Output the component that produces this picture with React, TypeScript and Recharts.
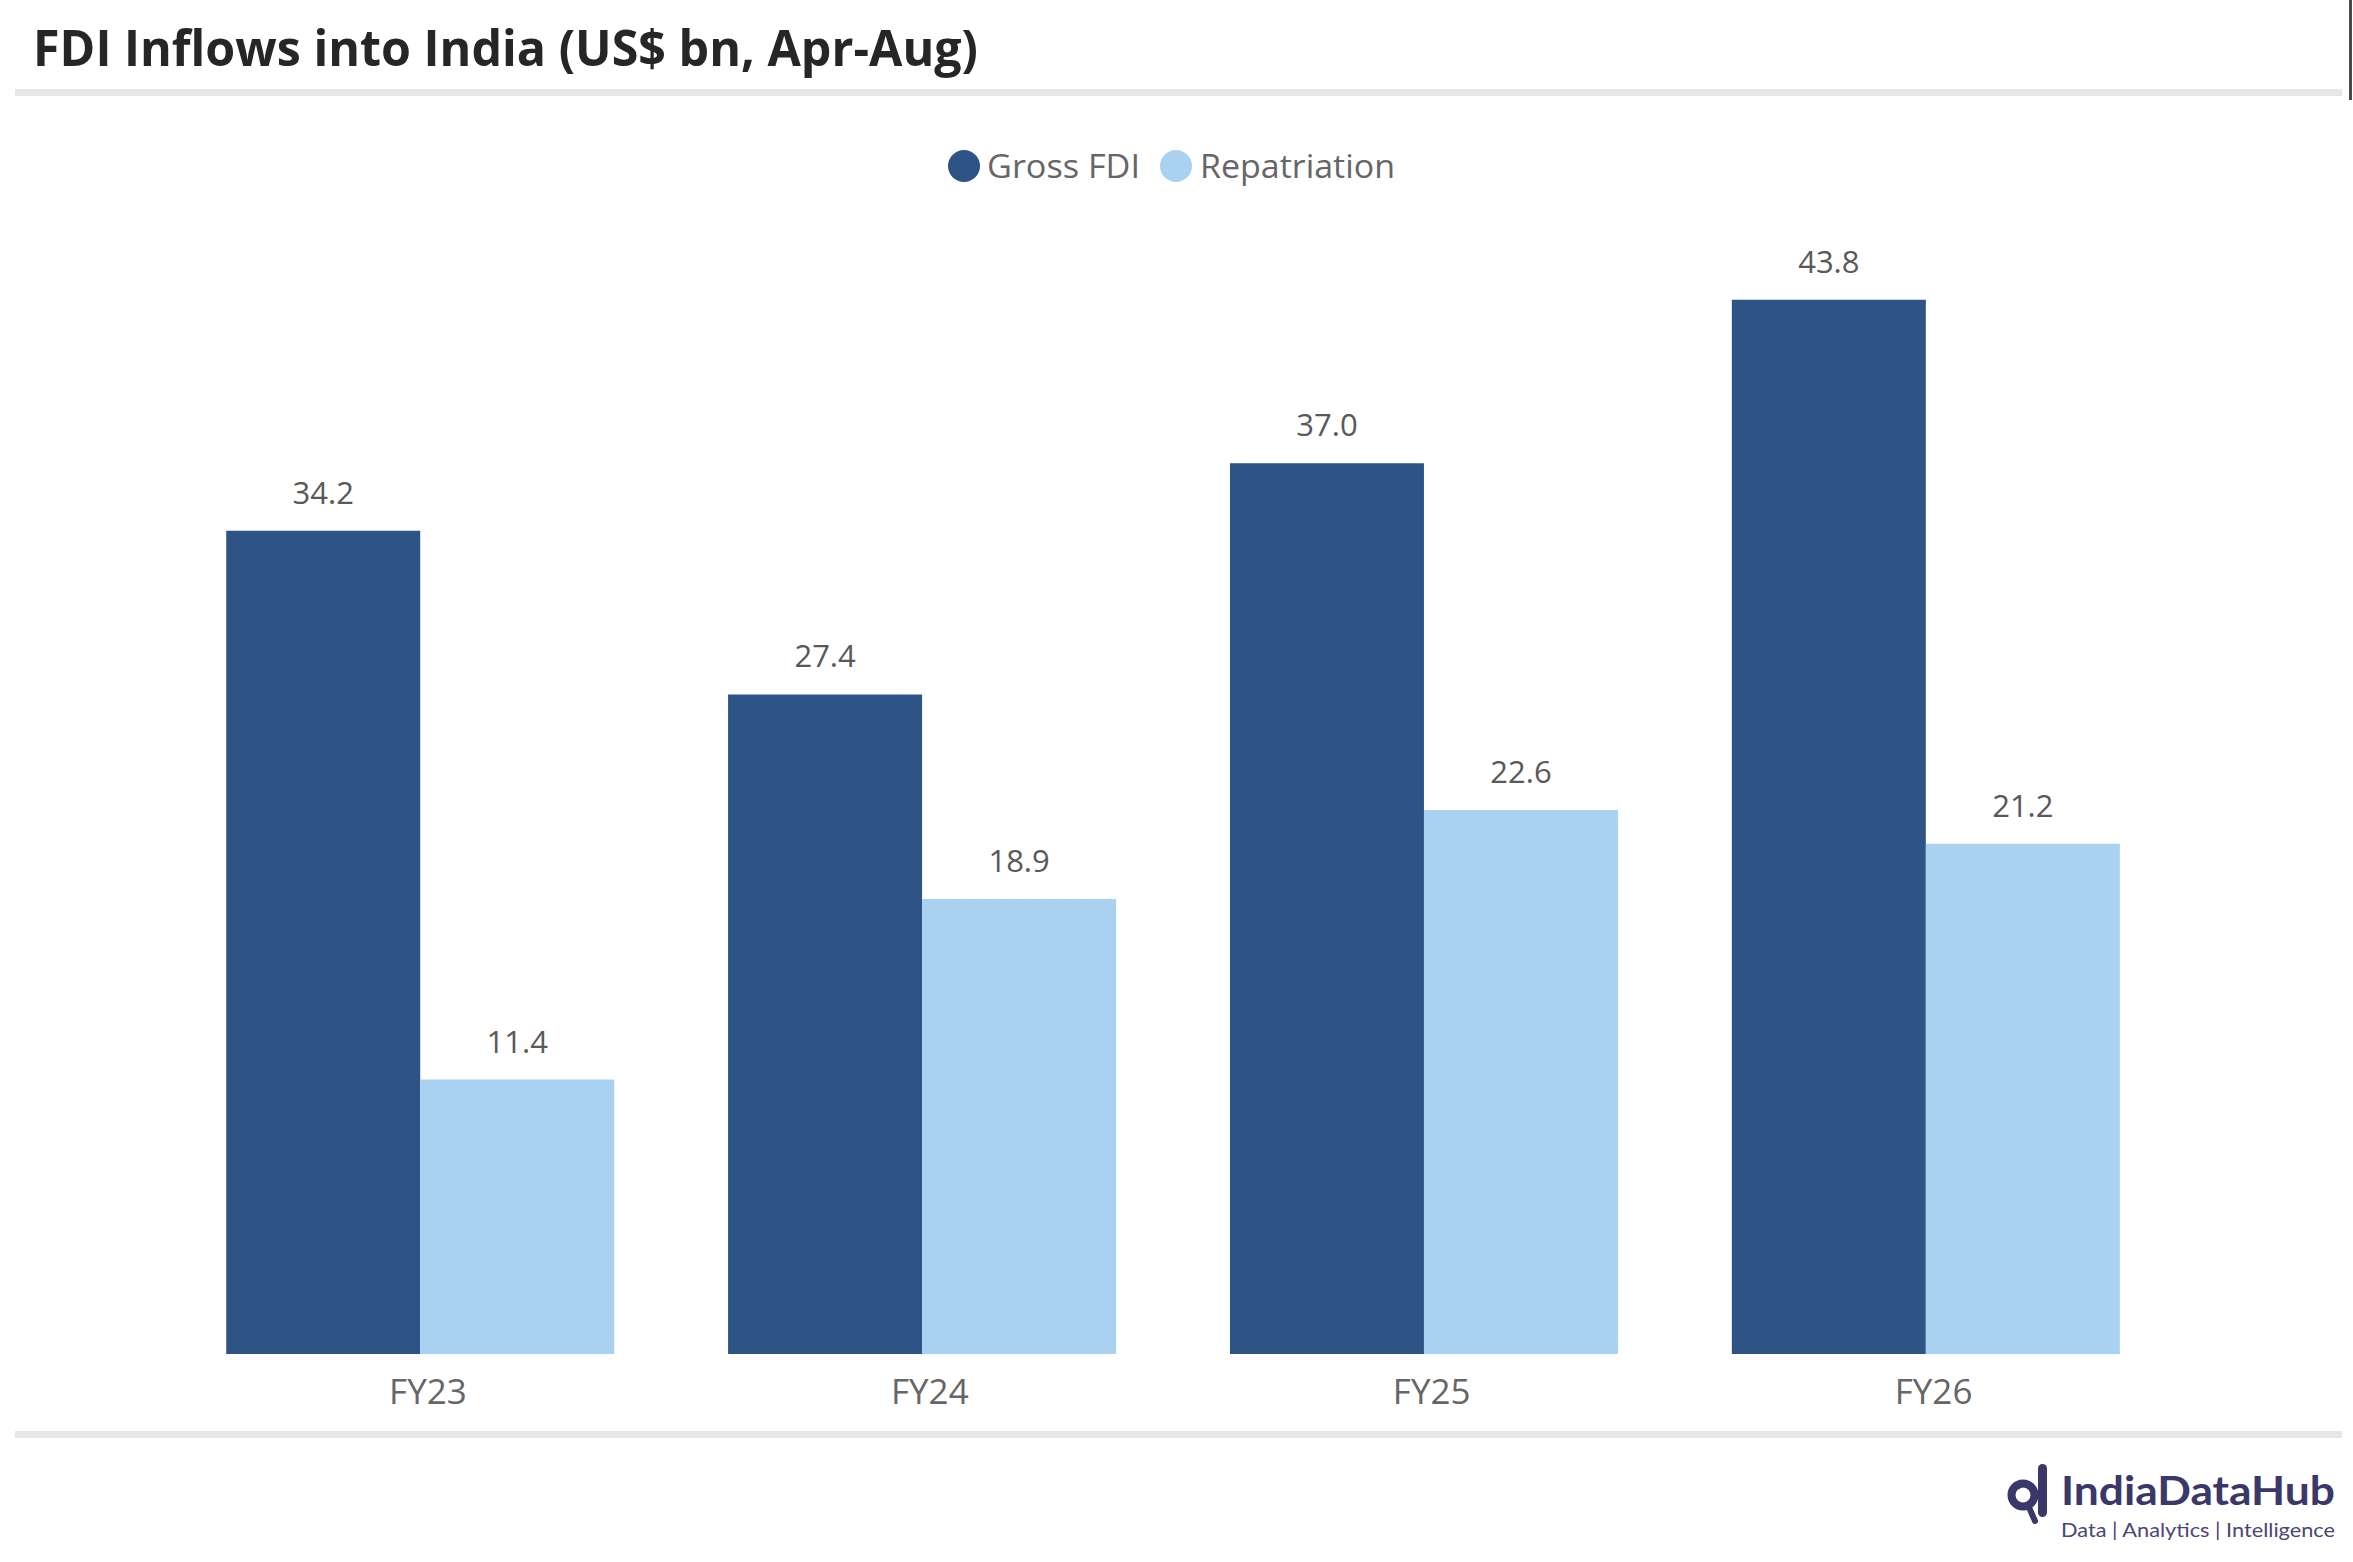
import React from "react";
import { BarChart, Bar, XAxis, YAxis, LabelList } from "recharts";

const categories = ["FY23", "FY24", "FY25", "FY26"];
const grossFdi = [34.2, 27.4, 37.0, 43.8];
const repatriation = [11.4, 18.9, 22.6, 21.2];
const seriesNames = ["Gross FDI", "Repatriation"];
const title = "FDI Inflows into India (US$ bn, Apr-Aug)";

const data = categories.map((c, i) => ({
  name: c,
  gross: grossFdi[i],
  repat: repatriation[i],
}));

const W = 2353;
const H = 1562;
const FONT = "'Open Sans', 'Noto Sans', sans-serif";
const DARK = "#2E5385";
const LIGHT = "#ABD1F0";

const Tick = (props: any) => (
  <text
    x={props.x}
    y={props.y}
    dx={8}
    dy={50}
    textAnchor="middle"
    fill="#666666"
    fontSize={35}
    fontFamily={FONT}
  >
    {props.payload.value}
  </text>
);

const fmt = (v: any) => Number(v).toFixed(1);

export default function App() {
  return (
    <div
      style={{
        position: "absolute",
        left: 0,
        top: 0,
        width: W,
        height: H,
        background: "#ffffff",
        overflow: "hidden",
      }}
    >
      <div style={{ position: "absolute", left: 0, top: 0 }}>
        <BarChart
          width={W}
          height={H}
          data={data}
          margin={{ top: 270.8, right: 176.5, bottom: 148, left: 169 }}
          barCategoryGap="11.4%"
          barGap={0}
        >
          <XAxis
            dataKey="name"
            axisLine={false}
            tickLine={false}
            tickSize={0}
            tickMargin={0}
            height={60}
            tick={<Tick />}
            interval={0}
          />
          <YAxis hide domain={[0, 45]} />
          <Bar dataKey="gross" fill={DARK} isAnimationActive={false}>
            <LabelList
              dataKey="gross"
              position="top"
              offset={27}
              formatter={fmt}
              fill="#595959"
              fontSize={31}
              fontFamily={FONT}
            />
          </Bar>
          <Bar dataKey="repat" fill={LIGHT} isAnimationActive={false}>
            <LabelList
              dataKey="repat"
              position="top"
              offset={27}
              formatter={fmt}
              fill="#595959"
              fontSize={31}
              fontFamily={FONT}
            />
          </Bar>
        </BarChart>
      </div>
      <svg
        width={W}
        height={H}
        style={{ position: "absolute", left: 0, top: 0, pointerEvents: "none" }}
      >
        <text
          x={33}
          y={66}
          fontFamily={FONT}
          fontWeight={700}
          fontSize={51}
          fill="#262626"
          textLength={945}
          lengthAdjust="spacingAndGlyphs"
        >
          {title}
        </text>
        <rect x={15} y={89} width={2327} height={7} fill="#E6E6E6" />
        <rect x={2349} y={0} width={3} height={100} fill="#4a4a4a" />
        <rect x={15} y={1431} width={2327} height={7} fill="#E6E6E6" />

        <circle cx={964} cy={166} r={16} fill={DARK} />
        <text x={987} y={178} fontFamily={FONT} fontSize={33} fill="#666666" textLength={153} lengthAdjust="spacingAndGlyphs">
          {seriesNames[0]}
        </text>
        <circle cx={1176} cy={166} r={16} fill={LIGHT} />
        <text x={1200} y={178} fontFamily={FONT} fontSize={33} fill="#666666" textLength={195} lengthAdjust="spacingAndGlyphs">
          {seriesNames[1]}
        </text>

        <g>
          <circle cx={2023} cy={1495} r={11.5} fill="none" stroke="#3B3769" strokeWidth={8} />
          <rect x={2038} y={1464} width={9} height={53} rx={4.5} fill="#3B3769" />
          <line x1={2028} y1={1505} x2={2035} y2={1521} stroke="#3B3769" strokeWidth={6} strokeLinecap="round" />
          <path d="M 2018 1489 A 7 7 0 0 1 2027 1487" fill="none" stroke="#3B3769" strokeWidth={2} />
        </g>
        <text
          x={2061}
          y={1505}
          fontFamily="Lato, 'Open Sans', sans-serif"
          fontWeight={700}
          fontSize={40}
          fill="#3B3769"
          textLength={274}
          lengthAdjust="spacingAndGlyphs"
        >
          IndiaDataHub
        </text>
        <text
          x={2061}
          y={1537}
          fontFamily="Lato, 'Open Sans', sans-serif"
          fontSize={20}
          fill="#4A4772"
          textLength={274}
          lengthAdjust="spacingAndGlyphs"
        >
          Data | Analytics | Intelligence
        </text>
      </svg>
    </div>
  );
}
